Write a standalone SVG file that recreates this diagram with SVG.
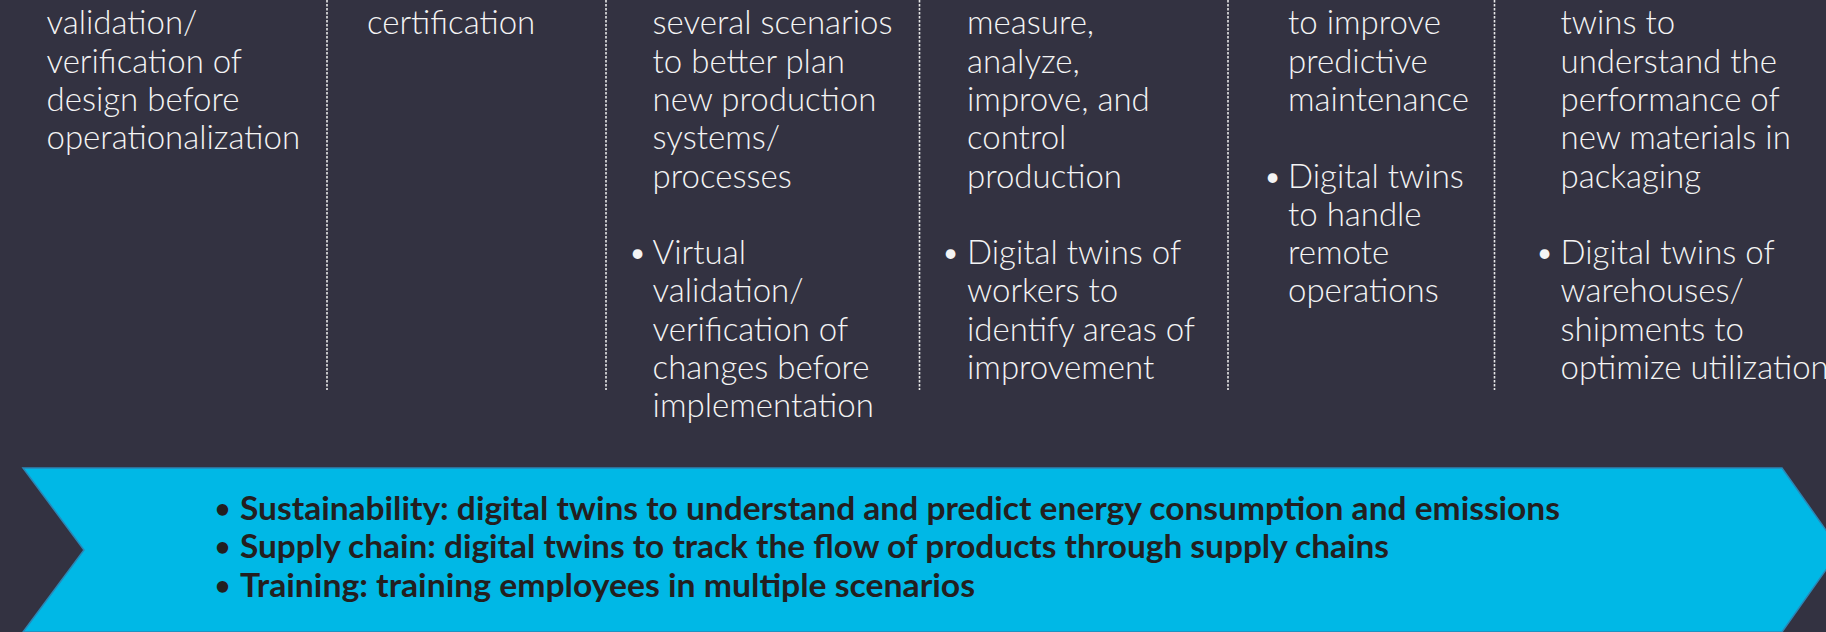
<svg xmlns="http://www.w3.org/2000/svg" width="1826" height="632" viewBox="0 0 1826 632">
<style>
.t{font-family:Lato,"Open Sans","Liberation Sans",sans-serif;font-weight:300;font-size:33px;fill:#f4f4f4}
.b{font-family:Lato,"Liberation Sans",sans-serif;font-weight:700;font-size:32px;fill:#231f20}
.bl{font-family:Lato,"Liberation Sans",sans-serif;font-weight:700;font-size:26px;fill:#231f20}
.sep{stroke:#e6e6e6;stroke-width:1.6;stroke-dasharray:2.4 1.6;fill:none}
</style>
<rect x="0" y="0" width="1826" height="632" fill="#333241"/>
<g id="separators">
<line class="sep" x1="327" y1="0" x2="327" y2="390"/>
<line class="sep" x1="606" y1="0" x2="606" y2="390"/>
<line class="sep" x1="919.5" y1="0" x2="919.5" y2="390"/>
<line class="sep" x1="1228" y1="0" x2="1228" y2="390"/>
<line class="sep" x1="1494.5" y1="0" x2="1494.5" y2="390"/>
</g>
<g id="col1">
<text class="t" x="46.5" y="34.3">validation/</text>
<text class="t" x="46.5" y="72.6">verification of</text>
<text class="t" x="46.5" y="110.9">design before</text>
<text class="t" x="46.5" y="149.2">operationalization</text>
</g>
<g id="col2">
<text class="t" x="367" y="34.3">certification</text>
</g>
<g id="col3">
<text class="t" x="652.6" y="34.3">several scenarios</text>
<text class="t" x="652.6" y="72.6">to better plan</text>
<text class="t" x="652.6" y="110.9">new production</text>
<text class="t" x="652.6" y="149.2">systems/</text>
<text class="t" x="652.6" y="187.5">processes</text>
<text class="t" x="628" y="264.1">•</text>
<text class="t" x="652.6" y="264.1">Virtual</text>
<text class="t" x="652.6" y="302.4">validation/</text>
<text class="t" x="652.6" y="340.7">verification of</text>
<text class="t" x="652.6" y="379">changes before</text>
<text class="t" x="652.6" y="417.3">implementation</text>
</g>
<g id="col4">
<text class="t" x="967" y="34.3">measure,</text>
<text class="t" x="967" y="72.6">analyze,</text>
<text class="t" x="967" y="110.9">improve, and</text>
<text class="t" x="967" y="149.2">control</text>
<text class="t" x="967" y="187.5">production</text>
<text class="t" x="941" y="264.1">•</text>
<text class="t" x="967" y="264.1">Digital twins of</text>
<text class="t" x="967" y="302.4">workers to</text>
<text class="t" x="967" y="340.7">identify areas of</text>
<text class="t" x="967" y="379">improvement</text>
</g>
<g id="col5">
<text class="t" x="1288" y="34.3">to improve</text>
<text class="t" x="1288" y="72.6">predictive</text>
<text class="t" x="1288" y="110.9">maintenance</text>
<text class="t" x="1263" y="187.5">•</text>
<text class="t" x="1288" y="187.5">Digital twins</text>
<text class="t" x="1288" y="225.8">to handle</text>
<text class="t" x="1288" y="264.1">remote</text>
<text class="t" x="1288" y="302.4">operations</text>
</g>
<g id="col6">
<text class="t" x="1560.5" y="34.3">twins to</text>
<text class="t" x="1560.5" y="72.6">understand the</text>
<text class="t" x="1560.5" y="110.9">performance of</text>
<text class="t" x="1560.5" y="149.2">new materials in</text>
<text class="t" x="1560.5" y="187.5">packaging</text>
<text class="t" x="1535" y="264.1">•</text>
<text class="t" x="1560.5" y="264.1">Digital twins of</text>
<text class="t" x="1560.5" y="302.4">warehouses/</text>
<text class="t" x="1560.5" y="340.7">shipments to</text>
<text class="t" x="1560.5" y="379">optimize utilization</text>
</g>
<g id="banner">
<polygon points="23,468 1782,468 1840,550 1782,632 23,632 84,550" fill="#00b8e6" stroke="#2a87b6" stroke-width="1.5"/>
<text class="bl" x="215" y="518">•</text>
<text class="b" x="240" y="520" textLength="1320" lengthAdjust="spacingAndGlyphs">Sustainability: digital twins to understand and predict energy consumption and emissions</text>
<text class="bl" x="215" y="556.3">•</text>
<text class="b" x="240" y="558.3" textLength="1149" lengthAdjust="spacingAndGlyphs">Supply chain: digital twins to track the flow of products through supply chains</text>
<text class="bl" x="215" y="594.5">•</text>
<text class="b" x="240" y="596.5" textLength="735" lengthAdjust="spacingAndGlyphs">Training: training employees in multiple scenarios</text>
</g>
</svg>
